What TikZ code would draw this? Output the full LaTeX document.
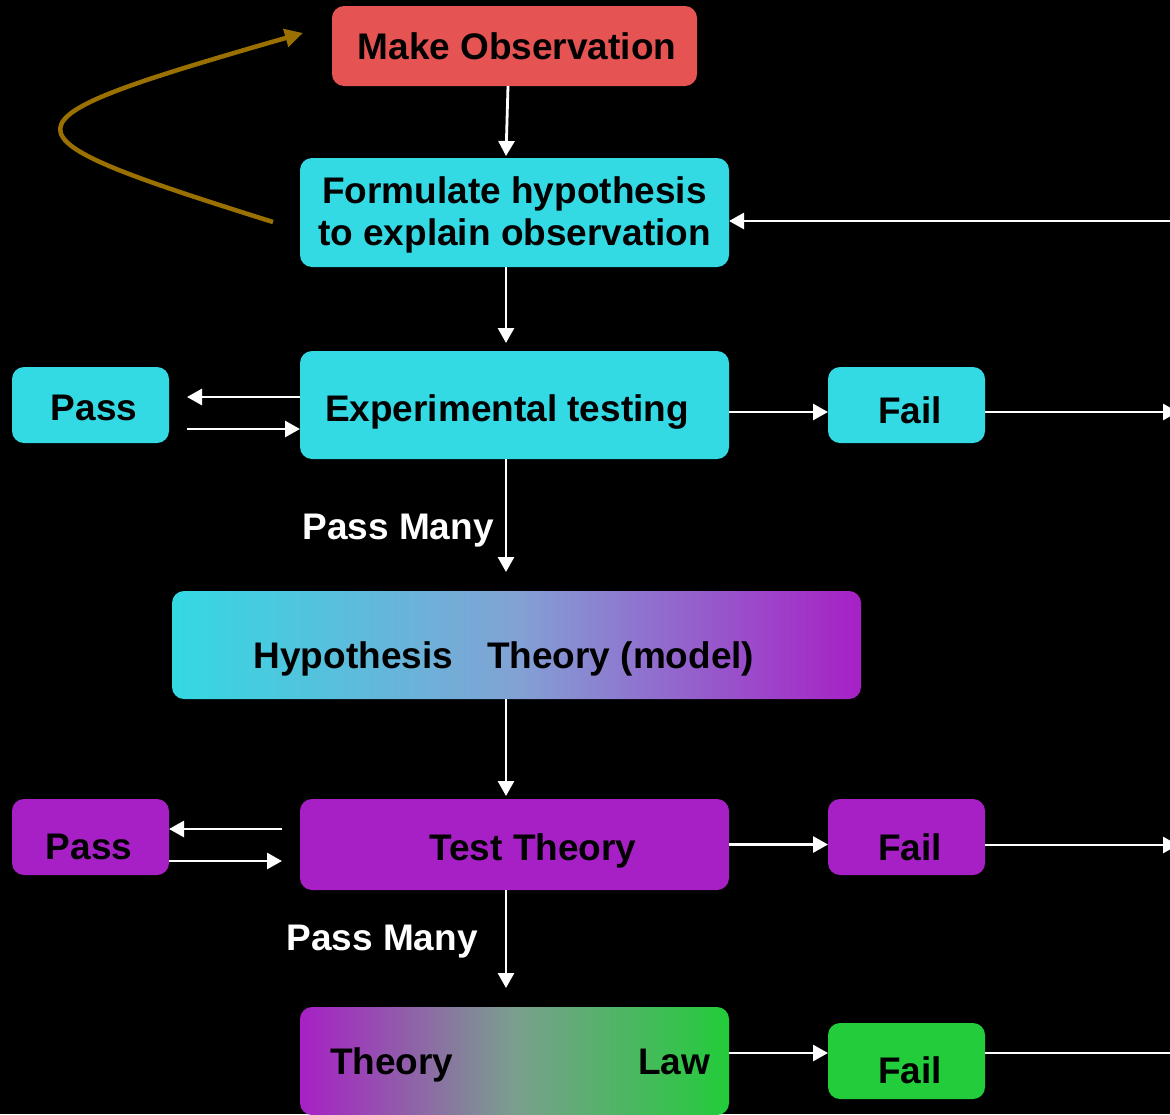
\documentclass[tikz,border=0pt]{standalone}
\usepackage{fontspec}
\setmainfont{Liberation Sans}
\usetikzlibrary{arrows.meta}
\definecolor{obsred}{HTML}{E55353}
\definecolor{cyanb}{HTML}{33D9E3}
\definecolor{purpb}{HTML}{A720C5}
\definecolor{greenb}{HTML}{22CC3A}
\definecolor{olivec}{HTML}{9A7000}
\definecolor{midblue}{HTML}{82A2D4}
\definecolor{midgray}{HTML}{7A9F8E}
\newcommand{\lowertxt}[2]{\raisebox{-#1}[\height][\depth]{#2}}
\begin{document}
\begin{tikzpicture}[x=1pt,y=-1pt,
  box/.style={rounded corners=12pt, inner sep=0pt, outer sep=0pt,
    font=\bfseries\fontsize{37}{44}\selectfont, text=black, align=center},
  arr/.style={draw=white, line width=2.8pt, -{Triangle[length=15pt,width=16pt]}},
  ln/.style={draw=white, line width=2.8pt},
  lbl/.style={font=\bfseries\fontsize{37}{44}\selectfont, text=white, inner sep=0pt},
  loopc/.style={draw=olivec, line width=4.5pt, -{Triangle[length=18pt,width=18pt]}}]
\fill[black] (0,0) rectangle (1170,1114);
\useasboundingbox (0,0) rectangle (1170,1114);

\node[box, fill=obsred, minimum width=365pt, minimum height=80pt] (obs) at (514.5,46) {\hspace*{5pt}Make Observation};
\node[box, fill=cyanb, minimum width=429pt, minimum height=109pt] (form) at (514.5,212.5) {\lowertxt{2.5pt}{\shortstack{Formulate hypothesis\\[4pt]to explain observation}}};
\node[box, fill=cyanb, minimum width=429pt, minimum height=108pt] (exp) at (514.5,405) {\lowertxt{7pt}{Experimental testing}\hspace*{15pt}};
\node[box, fill=cyanb, minimum width=157pt, minimum height=76pt] (pass1) at (90.5,405) {\lowertxt{3pt}{\hspace*{7pt}Pass}};
\node[box, fill=cyanb, minimum width=157pt, minimum height=76pt] (fail1) at (906.5,405) {\lowertxt{5pt}{\hspace*{7pt}Fail}};
\node[box, left color=cyanb, right color=purpb, middle color=midblue, minimum width=689pt, minimum height=108pt] (hyp) at (516.5,645) {\lowertxt{14pt}{Hypothesis\hspace*{34pt}Theory (model)}\hspace*{25pt}};
\node[box, fill=purpb, minimum width=429pt, minimum height=91pt] (test) at (514.5,844.5) {\lowertxt{6pt}{\hspace*{37pt}Test Theory}};
\node[box, fill=purpb, minimum width=157pt, minimum height=76pt] (pass2) at (90.5,837) {\lowertxt{10pt}{Pass\hspace*{3pt}}};
\node[box, fill=purpb, minimum width=157pt, minimum height=76pt] (fail2) at (906.5,837) {\lowertxt{10pt}{\hspace*{7pt}Fail}};
\node[box, left color=purpb, right color=greenb, middle color=midgray, minimum width=429pt, minimum height=108pt, text width=429pt, align=left] (tl) at (514.5,1061) {\lowertxt{4pt}{\hspace*{30pt}Theory}\hfill\lowertxt{4pt}{Law}\hspace*{19pt}};
\node[box, fill=greenb, minimum width=157pt, minimum height=76pt] (fail3) at (906.5,1061) {\lowertxt{9pt}{\hspace*{7pt}Fail}};

\node[lbl] (pm1) at (398,531) {Pass Many};
\node[lbl] (pm2) at (382,942) {Pass Many};

\draw[arr] ([xshift=-6.5pt]obs.south) -- ([xshift=-8.5pt,yshift=2pt]form.north);
\draw[arr] ([xshift=-8.5pt]form.south) -- ([xshift=-8.5pt,yshift=8pt]exp.north);
\coordinate (r1) at (1170,221);
\draw[arr] (r1) -- (r1 -| form.east);
\draw[arr] ([yshift=8pt]exp.west) -- ([xshift=18pt,yshift=8pt]pass1.east);
\draw[arr] ([xshift=18pt,yshift=-24pt]pass1.east) -- ([yshift=-24pt]exp.west);
\draw[arr] ([yshift=-7pt]exp.east) -- ([yshift=-7pt]fail1.west);
\coordinate (r2) at (1178,412);
\draw[arr] (fail1.east |- r2) -- (r2);
\draw[arr] ([xshift=-8.5pt]exp.south) -- ([xshift=-10.5pt,yshift=19pt]hyp.north);
\draw[arr] ([xshift=-10.5pt]hyp.south) -- ([xshift=-8.5pt,yshift=3pt]test.north);
\draw[arr] ([xshift=-18pt,yshift=15.5pt]test.west) -- ([yshift=8pt]pass2.east);
\draw[arr] ([yshift=-24pt]pass2.east) -- ([xshift=-18pt,yshift=-16.5pt]test.west);
\draw[arr] (test.east) -- (test.east -| fail2.west);
\coordinate (r3) at (1178,845);
\draw[arr] (fail2.east |- r3) -- (r3);
\draw[arr] ([xshift=-8.5pt]test.south) -- ([xshift=-8.5pt,yshift=19pt]tl.north);
\draw[arr] ([yshift=8pt]tl.east) -- ([yshift=8pt]fail3.west);
\coordinate (r4) at (1170,1053);
\draw[ln] ([yshift=8pt]fail3.east) -- (r4);

\coordinate (c1) at (273,222);
\coordinate (c2) at (303,33);
\draw[loopc] (c1) .. controls (-13,132) and (-13,124) .. (c2);
\end{tikzpicture}
\end{document}
